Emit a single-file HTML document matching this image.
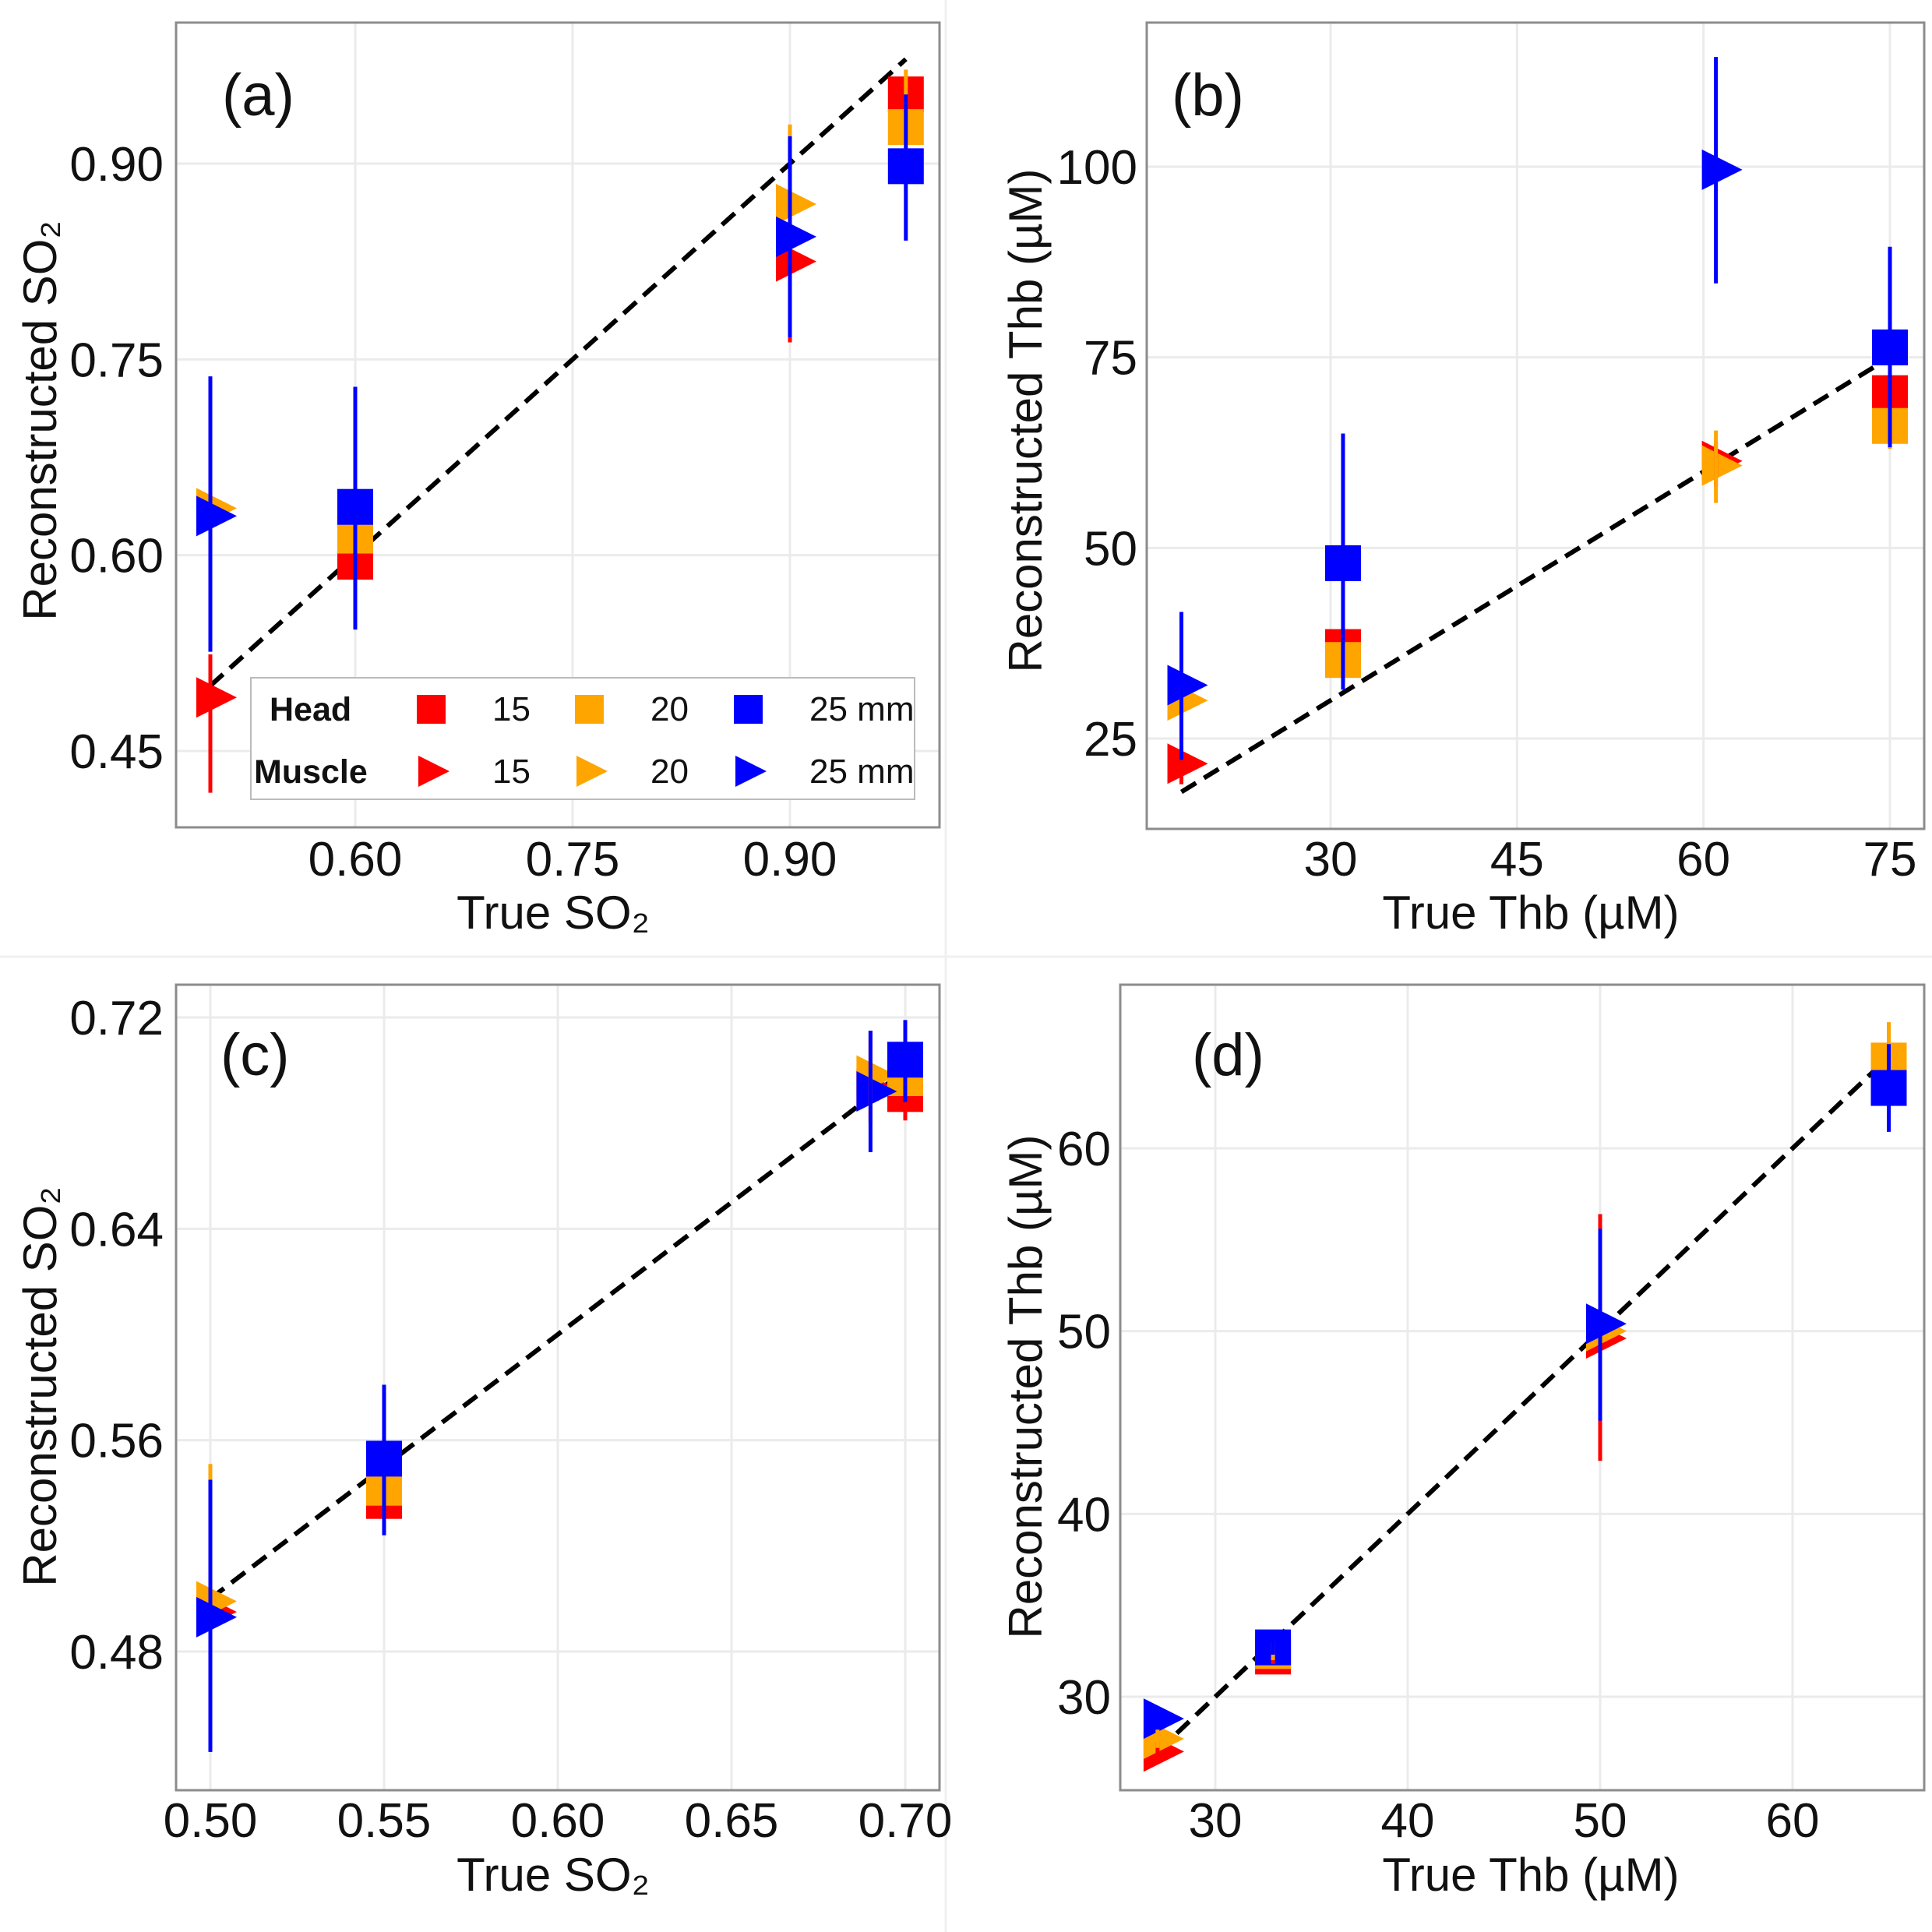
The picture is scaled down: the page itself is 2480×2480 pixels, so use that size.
<!DOCTYPE html>
<html><head><meta charset="utf-8"><style>
html,body{margin:0;padding:0;background:#fff;}
svg{display:block;font-family:"Liberation Sans","DejaVu Sans",sans-serif;}
</style></head><body>
<svg id="fig" width="2480" height="2480" viewBox="0 0 2480 2480" xmlns="http://www.w3.org/2000/svg">
<rect x="0" y="0" width="2480" height="2480" fill="#fff"/>
<line x1="1214" y1="0" x2="1214" y2="2480" stroke="#f0f0f0" stroke-width="3"/>
<line x1="0" y1="1228" x2="2480" y2="1228" stroke="#f0f0f0" stroke-width="3"/>
</svg>
<script>
// ---------- Panel (a) ----------
const aXTicks = [0.60, 0.75, 0.90];
const aYTicks = [0.45, 0.60, 0.75, 0.90];
const aHeadX = [0.60, 0.98];
const aHead15 = [0.595, 0.953];
const aHead20 = [0.615, 0.928];
const aHead25 = [0.637, 0.898];
const aHead15Err = [[0.58, 0.61], [0.94, 0.965]];
const aHead20Err = [[0.60, 0.63], [0.91, 0.972]];
const aHead25Err = [[0.543, 0.729], [0.841, 0.953]];
const aMuscleX = [0.50, 0.90];
const aMuscle15 = [0.491, 0.825];
const aMuscle20 = [0.636, 0.869];
const aMuscle25 = [0.630, 0.844];
const aMuscle15Err = [[0.418, 0.524], [0.763, 0.86]];
const aMuscle20Err = [[0.56, 0.65], [0.80, 0.930]];
const aMuscle25Err = [[0.526, 0.737], [0.767, 0.921]];
const aIdentity = [0.50, 0.98];

// ---------- Panel (b) ----------
const bXTicks = [30, 45, 60, 75];
const bYTicks = [25, 50, 75, 100];
const bHeadX = [31, 75];
const bHead15 = [37, 70.3];
const bHead20 = [35.3, 66];
const bHead25 = [48, 76.3];
const bHead15Err = [[35, 39], [68, 73]];
const bHead20Err = [[33, 37.5], [63, 69]];
const bHead25Err = [[31.4, 65], [63.2, 89.5]];
const bMuscleX = [18, 61];
const bMuscle15 = [21.7, 61.4];
const bMuscle20 = [30, 60.8];
const bMuscle25 = [32, 99.6];
const bMuscle15Err = [[19, 24], [58, 64]];
const bMuscle20Err = [[28, 32], [55.9, 65.4]];
const bMuscle25Err = [[22.2, 41.6], [84.7, 114.4]];
const bIdentity = [18, 75];

// ---------- Panel (c) ----------
const cXTicks = [0.50, 0.55, 0.60, 0.65, 0.70];
const cYTicks = [0.48, 0.56, 0.64, 0.72];
const cHeadX = [0.55, 0.70];
const cHead15 = [0.537, 0.691];
const cHead20 = [0.542, 0.697];
const cHead25 = [0.553, 0.704];
const cHead15Err = [[0.533, 0.541], [0.681, 0.70]];
const cHead20Err = [[0.538, 0.546], [0.69, 0.70]];
const cHead25Err = [[0.524, 0.581], [0.688, 0.719]];
const cMuscleX = [0.50, 0.69];
const cMuscle15 = [0.495, 0.693];
const cMuscle20 = [0.499, 0.698];
const cMuscle25 = [0.493, 0.692];
const cMuscle15Err = [[0.47, 0.52], [0.68, 0.715]];
const cMuscle20Err = [[0.45, 0.551], [0.68, 0.71]];
const cMuscle25Err = [[0.442, 0.545], [0.669, 0.715]];
const cIdentity = [0.50, 0.70];

// ---------- Panel (d) ----------
const dXTicks = [30, 40, 50, 60];
const dYTicks = [30, 40, 50, 60];
const dHeadX = [33, 65];
const dHead15 = [32.2, 64];
const dHead20 = [32.5, 64.8];
const dHead25 = [32.7, 63.3];
const dHead15Err = [[31.8, 32.6], [63, 65]];
const dHead20Err = [[32, 33], [63.5, 66.9]];
const dHead25Err = [[32.3, 33.1], [60.9, 65.7]];
const dMuscleX = [27, 50];
const dMuscle15 = [27, 49.6];
const dMuscle20 = [27.7, 50];
const dMuscle25 = [28.8, 50.4];
const dMuscle15Err = [[26.5, 27.5], [42.9, 56.4]];
const dMuscle20Err = [[27.2, 28.2], [46, 54]];
const dMuscle25Err = [[28.3, 29.3], [45.1, 55.6]];
const dIdentity = [27, 65];

const NS = 'http://www.w3.org/2000/svg';
const svg = document.getElementById('fig');
const COLORS = {c15: '#ff0000', c20: '#ffa500', c25: '#0000ff'};

function mk(tag, attrs, parent) {
  const e = document.createElementNS(NS, tag);
  for (const k in attrs) e.setAttribute(k, attrs[k]);
  (parent || svg).appendChild(e);
  return e;
}
function lin(v1, p1, v2, p2) { return v => p1 + (v - v1) * (p2 - p1) / (v2 - v1); }

function drawPanel(P) {
  const g = mk('g', {});
  
  
  const xs = lin(P.xa[0], P.xa[1], P.xb[0], P.xb[1]);
  const ys = lin(P.ya[0], P.ya[1], P.yb[0], P.yb[1]);
  const B = P.box;
  P.xTicks.forEach(t => {
    const l = mk('line', {x1: xs(t), x2: xs(t), y1: B.t, y2: B.b, stroke: '#ebebeb', 'stroke-width': 3}, g);
    
    
  });
  P.yTicks.forEach(t => {
    const l = mk('line', {x1: B.l, x2: B.r, y1: ys(t), y2: ys(t), stroke: '#ebebeb', 'stroke-width': 3}, g);
    
    
  });
  P.xTicks.forEach(t => {
    const tx = mk('text', {x: xs(t), y: P.xLabY, 'font-size': 62, 'text-anchor': 'middle', fill: '#111'}, g);
    tx.textContent = t.toFixed(P.dec);
    
    
  });
  P.yTicks.forEach(t => {
    const tx = mk('text', {x: P.yLabX, y: ys(t) + 22, 'font-size': 62, 'text-anchor': 'end', fill: '#111'}, g);
    tx.textContent = t.toFixed(P.dec);
    
    
  });
  const xt = mk('text', {x: P.xTitle[0], y: P.xTitle[1], 'font-size': 60, 'text-anchor': 'middle', fill: '#111'}, g);
  xt.textContent = P.xTitleText;
  
  
  const yt = mk('text', {x: 0, y: 0, 'font-size': 60, 'text-anchor': 'middle', fill: '#111',
    transform: 'translate(' + P.yTitle[0] + ',' + P.yTitle[1] + ') rotate(-90)'}, g);
  yt.textContent = P.yTitleText;
  
  
  const pl = mk('text', {x: P.lab[0], y: P.lab[1], 'font-size': 76, fill: '#111'}, g);
  pl.textContent = '(' + P.id + ')';
  
  
  const id = mk('line', {x1: xs(P.identity[0]), y1: ys(P.identity[0]), x2: xs(P.identity[1]), y2: ys(P.identity[1]),
    stroke: '#000', 'stroke-width': 6, 'stroke-dasharray': '22 12'}, g);
  
  
  const series = [['c15', P.h15, P.m15, '15'], ['c20', P.h20, P.m20, '20'], ['c25', P.h25, P.m25, '25']];
  series.forEach(s => {
    const col = COLORS[s[0]];
    P.hX.forEach((x, i) => {
      const cx = xs(x), cy = ys(s[1][i]);
      const r = mk('rect', {x: cx - 23, y: cy - 23, width: 46, height: 46, fill: col}, g);
      
      
    });
    P.mX.forEach((x, i) => {
      const cx = xs(x), cy = ys(s[2][i]);
      const t = mk('polygon', {points: (cx - 18) + ',' + (cy - 26) + ' ' + (cx - 18) + ',' + (cy + 26) + ' ' + (cx + 34) + ',' + cy, fill: col}, g);
      
      
    });
  });
  const errs = [['c15', P.h15e, P.m15e, '15'], ['c20', P.h20e, P.m20e, '20'], ['c25', P.h25e, P.m25e, '25']];
  errs.forEach(s => {
    const col = COLORS[s[0]];
    P.hX.forEach((x, i) => {
      const e = mk('line', {x1: xs(x), x2: xs(x), y1: ys(s[1][i][0]), y2: ys(s[1][i][1]), stroke: col, 'stroke-width': 5}, g);
      
      
    });
    P.mX.forEach((x, i) => {
      const e = mk('line', {x1: xs(x), x2: xs(x), y1: ys(s[2][i][0]), y2: ys(s[2][i][1]), stroke: col, 'stroke-width': 5}, g);
      
      
    });
  });
  const bd = mk('rect', {x: B.l, y: B.t, width: B.r - B.l, height: B.b - B.t, fill: 'none', stroke: '#8c8c8c', 'stroke-width': 3}, g);
  
  
  return g;
}

drawPanel({id: 'a', box: {l: 226, r: 1206, t: 29, b: 1062},
  xa: [0.6, 456], xb: [0.9, 1014], ya: [0.9, 210], yb: [0.45, 964], dec: 2,
  xTicks: aXTicks, yTicks: aYTicks, xLabY: 1124, yLabX: 210,
  xTitle: [710, 1192], xTitleText: 'True SO₂', yTitle: [72, 540], yTitleText: 'Reconstructed SO₂',
  lab: [285, 148], identity: aIdentity,
  hX: aHeadX, h15: aHead15, h20: aHead20, h25: aHead25, h15e: aHead15Err, h20e: aHead20Err, h25e: aHead25Err,
  mX: aMuscleX, m15: aMuscle15, m20: aMuscle20, m25: aMuscle25, m15e: aMuscle15Err, m20e: aMuscle20Err, m25e: aMuscle25Err});

drawPanel({id: 'b', box: {l: 1472, r: 2470, t: 29, b: 1064},
  xa: [30, 1708], xb: [75, 2426], ya: [100, 214], yb: [25, 948], dec: 0,
  xTicks: bXTicks, yTicks: bYTicks, xLabY: 1124, yLabX: 1460,
  xTitle: [1965, 1192], xTitleText: 'True Thb (µM)', yTitle: [1337, 540], yTitleText: 'Reconstructed Thb (µM)',
  lab: [1504, 148], identity: bIdentity,
  hX: bHeadX, h15: bHead15, h20: bHead20, h25: bHead25, h15e: bHead15Err, h20e: bHead20Err, h25e: bHead25Err,
  mX: bMuscleX, m15: bMuscle15, m20: bMuscle20, m25: bMuscle25, m15e: bMuscle15Err, m20e: bMuscle20Err, m25e: bMuscle25Err});

drawPanel({id: 'c', box: {l: 226, r: 1206, t: 1264, b: 2298},
  xa: [0.5, 270], xb: [0.7, 1162], ya: [0.72, 1306], yb: [0.48, 2120], dec: 2,
  xTicks: cXTicks, yTicks: cYTicks, xLabY: 2358, yLabX: 210,
  xTitle: [710, 2427], xTitleText: 'True SO₂', yTitle: [72, 1780], yTitleText: 'Reconstructed SO₂',
  lab: [283, 1380], identity: cIdentity,
  hX: cHeadX, h15: cHead15, h20: cHead20, h25: cHead25, h15e: cHead15Err, h20e: cHead20Err, h25e: cHead25Err,
  mX: cMuscleX, m15: cMuscle15, m20: cMuscle20, m25: cMuscle25, m15e: cMuscle15Err, m20e: cMuscle20Err, m25e: cMuscle25Err});

drawPanel({id: 'd', box: {l: 1438, r: 2470, t: 1264, b: 2298},
  xa: [30, 1560], xb: [60, 2301], ya: [60, 1474], yb: [30, 2178], dec: 0,
  xTicks: dXTicks, yTicks: dYTicks, xLabY: 2358, yLabX: 1426,
  xTitle: [1965, 2427], xTitleText: 'True Thb (µM)', yTitle: [1337, 1780], yTitleText: 'Reconstructed Thb (µM)',
  lab: [1530, 1380], identity: dIdentity,
  hX: dHeadX, h15: dHead15, h20: dHead20, h25: dHead25, h15e: dHead15Err, h20e: dHead20Err, h25e: dHead25Err,
  mX: dMuscleX, m15: dMuscle15, m20: dMuscle20, m25: dMuscle25, m15e: dMuscle15Err, m20e: dMuscle20Err, m25e: dMuscle25Err});

// ---------- Legend in panel (a) ----------
const legend = mk('g', {});


const lb = mk('rect', {x: 322, y: 870, width: 852, height: 156, fill: '#fff', stroke: '#bbb', 'stroke-width': 2}, legend);


const legendRows = [['Head', 346, 910, 'sq'], ['Muscle', 326, 990, 'tri']];
const legendCols = [[553, '#ff0000', '15'], [756, '#ffa500', '20'], [960, '#0000ff', '25 mm']];
legendRows.forEach(r => {
  const t = mk('text', {x: r[1], y: r[2] + 15, 'font-size': 43, 'font-weight': 'bold', fill: '#111'}, legend);
  t.textContent = r[0];
  
  
  legendCols.forEach(c => {
    let m;
    if (r[3] === 'sq') {
      m = mk('rect', {x: c[0] - 18, y: r[2] - 18, width: 37, height: 37, fill: c[1]}, legend);
    } else {
      m = mk('polygon', {points: (c[0] - 16) + ',' + (r[2] - 20) + ' ' + (c[0] - 16) + ',' + (r[2] + 20) + ' ' + (c[0] + 24) + ',' + r[2], fill: c[1]}, legend);
    }
    
    
    const lt = mk('text', {x: c[0] + 79, y: r[2] + 15, 'font-size': 44, fill: '#111'}, legend);
    lt.textContent = c[2];
    
    
  });
});
</script>
</body></html>
